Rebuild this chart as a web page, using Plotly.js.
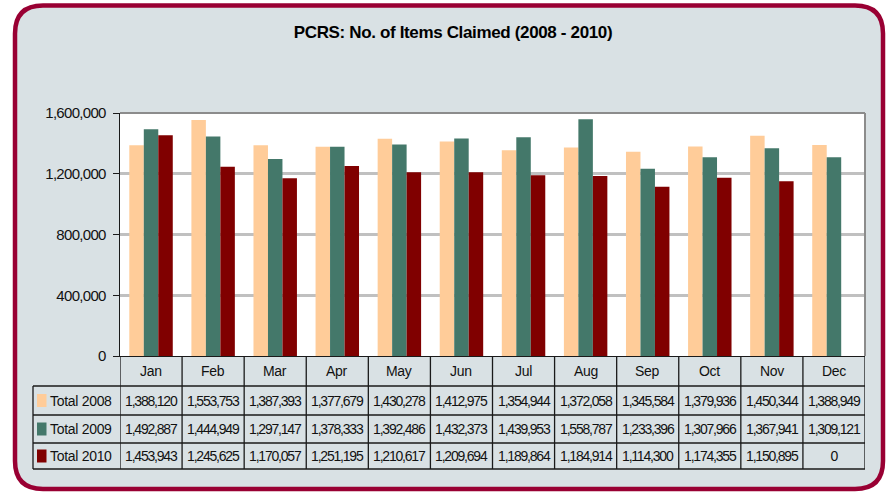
<!DOCTYPE html>
<html>
<head>
<meta charset="utf-8">
<script src="https://cdn.plot.ly/plotly-3.0.1.min.js"></script>
<style>
html,body{margin:0;padding:0;background:#fff;}
#chart{width:888px;height:493px;}
.gtitle{letter-spacing:-0.35px;}
.ytick text{letter-spacing:-0.7px;}
.annotation-text{letter-spacing:-0.3px;}
.annotation.num .annotation-text{letter-spacing:-1.2px;}
</style>
</head>
<body>
<div id="chart"></div>
<script>
const months = ["Jan","Feb","Mar","Apr","May","Jun","Jul","Aug","Sep","Oct","Nov","Dec"];
const seriesNames = ["Total 2008","Total 2009","Total 2010"];
const total2008 = [1388120,1553753,1387393,1377679,1430278,1412975,1354944,1372058,1345584,1379936,1450344,1388949];
const total2009 = [1492887,1444949,1297147,1378333,1392486,1432373,1439953,1558787,1233396,1307966,1367941,1309121];
const total2010 = [1453943,1245625,1170057,1251195,1210617,1209694,1189864,1184914,1114300,1174355,1150895,0];
const colors = ["#ffcc99","#44786a","#800000"];
const series = [total2008,total2009,total2010];

const W = 888, H = 493;
const L = 120, R = 865, T = 113, B = 356;
const X = px => (px - L) / (R - L);
const Y = py => (B - py) / (B - T);
const FONT = "Liberation Sans, Arial, sans-serif";

const traces = series.map((vals, i) => ({
  type: "bar",
  x: months,
  y: vals,
  name: seriesNames[i],
  marker: {color: colors[i], line: {width: 0}},
  hoverinfo: "x+y+name"
}));

const shapes = [];
// outer rounded frame
{
  const x0 = 15, y0 = 5.5, x1 = 883, y1 = 489, r = 28;
  const p = [
    `M ${X(x0 + r)} ${Y(y0)}`,
    `L ${X(x1 - r)} ${Y(y0)}`,
    `Q ${X(x1)} ${Y(y0)} ${X(x1)} ${Y(y0 + r)}`,
    `L ${X(x1)} ${Y(y1 - r)}`,
    `Q ${X(x1)} ${Y(y1)} ${X(x1 - r)} ${Y(y1)}`,
    `L ${X(x0 + r)} ${Y(y1)}`,
    `Q ${X(x0)} ${Y(y1)} ${X(x0)} ${Y(y1 - r)}`,
    `L ${X(x0)} ${Y(y0 + r)}`,
    `Q ${X(x0)} ${Y(y0)} ${X(x0 + r)} ${Y(y0)} Z`
  ].join(" ");
  shapes.push({type: "path", xref: "paper", yref: "paper", path: p,
    fillcolor: "#d9e1e4", line: {color: "#990033", width: 4.5}, layer: "below"});
}
// plot area white
shapes.push({type: "rect", xref: "paper", yref: "paper", x0: 0, x1: 1, y0: 0, y1: 1,
  fillcolor: "#ffffff", line: {width: 0}, layer: "below"});
// plot border top/right gray
shapes.push({type: "line", xref: "paper", yref: "paper", x0: 0, x1: 1, y0: 1, y1: 1,
  line: {color: "#8c8c8c", width: 2}});
shapes.push({type: "line", xref: "paper", yref: "paper", x0: 1, x1: 1, y0: 0, y1: 1,
  line: {color: "#8c8c8c", width: 2}});

// table geometry (pixel rows)
const rowTops = [356, 386, 415, 443, 469];
const tableLeft = 33;
const lineStyle = {color: "#1a1a1a", width: 1.3};
for (let k = 1; k < rowTops.length; k++) {
  shapes.push({type: "line", xref: "paper", yref: "paper", x0: X(tableLeft), x1: 1,
    y0: Y(rowTops[k]), y1: Y(rowTops[k]), line: lineStyle});
}
for (let i = 0; i <= months.length; i++) {
  shapes.push({type: "line", xref: "x", yref: "paper", x0: i - 0.5, x1: i - 0.5,
    y0: Y(rowTops[0]), y1: Y(rowTops[4]), line: lineStyle});
}
shapes.push({type: "line", xref: "paper", yref: "paper", x0: X(tableLeft), x1: X(tableLeft),
  y0: Y(rowTops[1]), y1: Y(rowTops[4]), line: lineStyle});

const annotations = [];
months.forEach(m => annotations.push({xref: "x", yref: "paper", x: m, y: Y((rowTops[0] + rowTops[1]) / 2),
  text: m, showarrow: false, xanchor: "center", yanchor: "middle",
  font: {family: FONT, size: 14, color: "#111"}}));
const numAnnIdx = [];
series.forEach((vals, r) => {
  const yc = Y((rowTops[r + 1] + rowTops[r + 2]) / 2);
  shapes.push({type: "rect", xref: "paper", yref: "paper", x0: X(37), x1: X(46.5),
    y0: yc - 6.5 / (B - T), y1: yc + 6.5 / (B - T), fillcolor: colors[r], line: {width: 0}});
  annotations.push({xref: "paper", yref: "paper", x: X(48), y: yc, text: seriesNames[r],
    showarrow: false, xanchor: "left", yanchor: "middle",
    font: {family: FONT, size: 14, color: "#111"}});
  vals.forEach((v, i) => {
    numAnnIdx.push(annotations.length);
    annotations.push({xref: "x", yref: "paper", x: months[i], y: yc,
      text: v.toLocaleString("en-US"), showarrow: false, xanchor: "center", yanchor: "middle",
      font: {family: FONT, size: 14, color: "#111"}});
  });
});

const layout = {
  width: W, height: H,
  margin: {l: L, r: W - R, t: T, b: H - B, pad: 0},
  paper_bgcolor: "#ffffff",
  plot_bgcolor: "rgba(0,0,0,0)",
  barmode: "group",
  bargap: 0.3,
  bargroupgap: 0,
  showlegend: false,
  title: {text: "<b>PCRS: No. of Items Claimed (2008 - 2010)</b>", xref: "container", yref: "container",
    x: 453 / W, y: 1 - 32 / H, xanchor: "center", yanchor: "middle",
    font: {family: FONT, size: 17, color: "#000"}},
  xaxis: {type: "category", categoryorder: "array", categoryarray: months, range: [-0.5, 11.5],
    showticklabels: false, ticks: "", showgrid: false, showline: true, linecolor: "#1a1a1a", linewidth: 1.3,
    zeroline: false, fixedrange: true},
  yaxis: {range: [0, 1600000], dtick: 400000, tickformat: ",d", ticks: "outside", ticklen: 6,
    tickcolor: "#1a1a1a", tickwidth: 1, showline: true, linecolor: "#1a1a1a", linewidth: 1.3,
    showgrid: true, gridcolor: "#c0c0c0", gridwidth: 3, zeroline: false,
    tickfont: {family: FONT, size: 15, color: "#111"}, ticklabelstandoff: 4, fixedrange: true},
  shapes: shapes,
  annotations: annotations
};

function markNums() {
  const nodes = document.querySelectorAll("#chart .annotation");
  numAnnIdx.forEach(i => { if (nodes[i]) nodes[i].classList.add("num"); });
}
Plotly.newPlot("chart", traces, layout, {displayModeBar: false, staticPlot: true}).then(markNums);
</script>
</body>
</html>
